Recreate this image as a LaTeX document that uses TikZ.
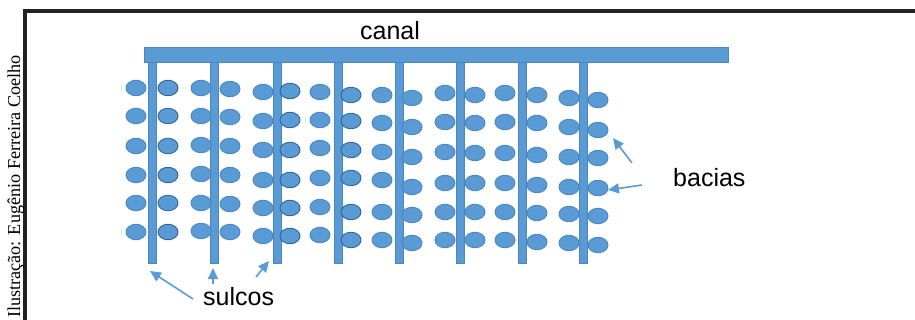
\documentclass[tikz,border=0pt]{standalone}
\usepackage{fontspec}
\setmainfont{Liberation Sans}
\newfontfamily\creditfont{Liberation Serif}
\usetikzlibrary{shapes.geometric,arrows.meta}
\definecolor{wblue}{HTML}{5B9BD5}
\definecolor{wedge}{HTML}{4A86C0}
\definecolor{wdark}{HTML}{2F6496}
\definecolor{frame}{HTML}{222222}
\tikzset{
  basin/.style={ellipse,fill=wblue,draw=wedge,line width=0.9pt,minimum width=20pt,minimum height=15.5pt,inner sep=0pt},
  basindk/.style={basin,draw=wdark},
  furrow/.style={rectangle,fill=wblue,draw=wedge,line width=0.6pt,minimum width=8pt,minimum height=201pt,inner sep=0pt,anchor=north},
  canalbar/.style={rectangle,fill=wblue,draw=wedge,line width=0.6pt,minimum width=584pt,minimum height=15pt,inner sep=0pt},
  lbl/.style={font=\fontsize{25}{30}\selectfont,text=black,inner sep=0pt},
  ptr/.style={draw=wblue,line width=1.6pt,-{Triangle[length=11pt,width=10pt]}},
  frameline/.style={draw=frame,line width=4pt}
}
\begin{document}
\begin{tikzpicture}[x=1pt,y=-1pt]
\useasboundingbox (0,0) rectangle (915,320);
\begin{scope}
\clip (0,0) rectangle (915,320);
% frame
\coordinate (fc) at (25.3,11.5);
\coordinate (fr) at (915,11.5);
\coordinate (fb) at (25.3,320);
\draw[frameline] (fr) -- (fc) -- (fb);
% credit
\node[font=\creditfont\fontsize{18.2}{22}\selectfont,rotate=90,anchor=base east,inner sep=0pt] (credit) at (20,55) {Ilustração: Eugênio Ferreira Coelho};
% furrows
\foreach \c/\x in {1/152,2/214,3/277,4/338,5/399,6/460,7/522,8/583}
  \node[furrow] (s\c) at (\x,62) {};
% canal
\node[canalbar] (canal) at (436,54.5) {};
\node[lbl,anchor=base] (canaltxt) at (390,40) {canal};
% basins left
\foreach \c/\lx/\Lr in {
  1/136/{88,116,146,175,203,232},
  2/201/{88,116,145,174,203,231},
  3/263/{92,121,150,180,208,236},
  4/320/{92,120,148,178,207,235},
  5/382/{95,123,152,180,212,240},
  6/445/{93,122,152,183,212,240},
  7/505/{93,122,153,183,212,240},
  8/569/{98,127,157,187,214,243}}
  \foreach \yy [count=\i] in \Lr
    \node[basin] (bL\c-\i) at (\lx,\yy) {};
% basins right
\foreach \c/\rx/\Rr/\st in {
  1/168/{88,116,146,175,203,232}/basindk,
  2/230/{89,117,146,175,204,232}/basin,
  3/290/{91,120,150,180,208,236}/basindk,
  4/351/{95,121,150,178,212,240}/basindk,
  5/412/{98,127,157,187,215,243}/basin,
  6/475/{95,123,153,183,212,240}/basin,
  7/537/{95,123,155,185,213,242}/basin,
  8/598/{100,130,158,188,216,245}/basin}
  \foreach \yy [count=\i] in \Rr
    \node[\st] (bR\c-\i) at (\rx,\yy) {};
% labels
\node[lbl,anchor=base west] (bacias) at (673,187) {bacias};
\node[lbl,anchor=base west] (sulcos) at (203,305) {sulcos};
% arrows to furrows
\coordinate (sa1) at (193,299);
\coordinate (st1) at (150,271);
\coordinate (sa2) at (213,284);
\coordinate (st2) at (213,268);
\coordinate (sa3) at (256,277);
\coordinate (st3) at (269,261);
\draw[ptr] (sa1) -- (st1);
\draw[ptr] (sa2) -- (st2);
\draw[ptr] (sa3) -- (st3);
% arrows to basins
\coordinate (ba1) at (632,163);
\coordinate (bt1) at (613,138);
\coordinate (ba2) at (642,185);
\coordinate (bt2) at (608,190);
\draw[ptr] (ba1) -- (bt1);
\draw[ptr] (ba2) -- (bt2);
\end{scope}
\end{tikzpicture}
\end{document}
